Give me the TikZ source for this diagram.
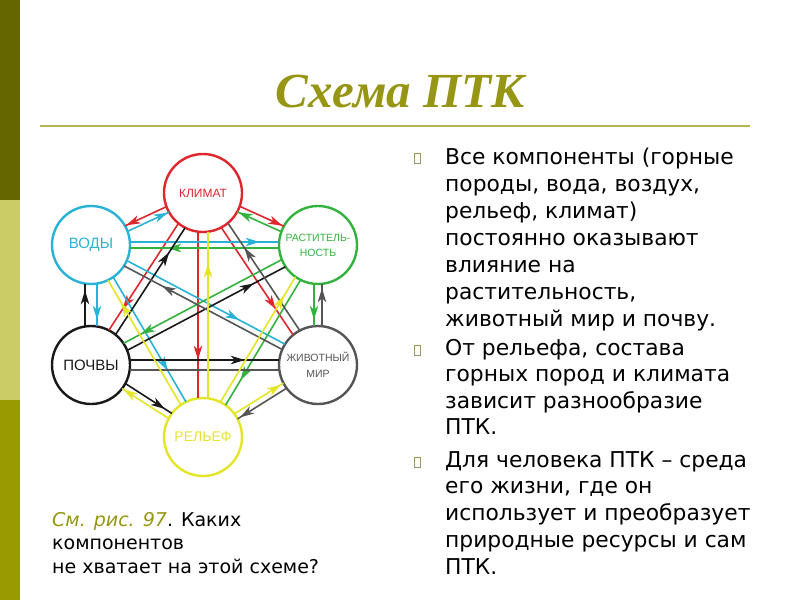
\documentclass[tikz,border=0pt]{standalone}
\usepackage{fontspec}
\setmainfont{DejaVu Sans}
\newfontfamily\titlefont{Liberation Serif}
\newfontfamily\labelfont{Liberation Sans}
\usepackage{tikz}
\usetikzlibrary{positioning,calc,arrows.meta,decorations.markings}
\definecolor{myred}{RGB}{222,38,44}
\definecolor{mycyan}{RGB}{42,178,214}
\definecolor{mygreen}{RGB}{52,178,62}
\definecolor{myblack}{RGB}{25,25,25}
\definecolor{mygray}{RGB}{85,85,85}
\definecolor{myyellow}{RGB}{228,228,40}
\definecolor{olivedark}{RGB}{102,102,0}
\definecolor{olivelight}{RGB}{204,204,102}
\definecolor{olivemid}{RGB}{153,153,0}
\definecolor{titlecol}{RGB}{150,150,20}
\definecolor{rulecol}{RGB}{180,180,80}
\definecolor{bulletcol}{RGB}{150,150,100}

\begin{document}
\begin{tikzpicture}[x=1pt, y=1pt, on grid,
    main/.style = {draw, circle, line width=2.4pt, minimum size=78pt, inner sep=0pt, align=center},
    link/.style = {to path={($(\tikztostart)!39pt!(\tikztotarget)!#1pt!90:(\tikztotarget)$) -- ($(\tikztotarget)!39pt!(\tikztostart)!#1pt!-90:(\tikztostart)$)}, line width=1.6pt},
    arr/.style = {postaction={decorate}, decoration={markings, mark=at position #1 with {\arrow{Stealth[length=14pt, width=8.5pt, inset=4pt]}}}},
    bullet/.style = {draw=bulletcol, line width=1pt, minimum width=6pt, minimum height=10pt, inner sep=0pt},
    txt/.style = {anchor=north west, inner sep=0pt, align=left}]
    \path[use as bounding box] (0,0) rectangle (800,-600);
    % side bar
    \fill[olivedark] (0,0) rectangle (20,-200);
    \fill[olivelight] (0,-200) rectangle (20,-400);
    \fill[olivemid] (0,-400) rectangle (20,-600);
    % title
    \node[anchor=base, text=titlecol, font=\titlefont\bfseries\itshape\fontsize{49}{55}\selectfont] (title) at (400,-107) {Схема ПТК};
    \draw[rulecol, line width=2pt] (40,-126) -- (750,-126);

    % circles
    \node[main] (klimat) at (203,-193) [color=myred, font=\labelfont\fontsize{12}{14}\selectfont] {КЛИМАТ};
    \node[main] (vody) [below left=52pt and 112pt of klimat] [color=mycyan, font=\labelfont\fontsize{15}{17}\selectfont] {ВОДЫ};
    \node[main] (rast) [below right=52pt and 115pt of klimat] [color=mygreen, font=\labelfont\fontsize{10.5}{15}\selectfont] {РАСТИТЕЛЬ-\\НОСТЬ};
    \node[main] (pochvy) [below=120pt of vody] [color=myblack, font=\labelfont\fontsize{15}{17}\selectfont] {ПОЧВЫ};
    \node[main] (zhivot) [below=120pt of rast] [color=mygray, font=\labelfont\fontsize{10.5}{16}\selectfont] {ЖИВОТНЫЙ\\МИР};
    \node[main] (relef) [below=244pt of klimat] [color=myyellow, font=\labelfont\fontsize{14}{16}\selectfont] {РЕЛЬЕФ};

    % links
    \path[color=myred] (klimat) edge[link=-3, arr=0.97] (vody)
        (klimat) edge[link=3, arr=0.97] (rast)
        (klimat) edge[link=-5, arr=0.77] (relef)
        (klimat) edge[link=-4, arr=0.8] (pochvy)
        (klimat) edge[link=-4, arr=0.76] (zhivot);
    \path[color=mycyan] (vody) edge[link=-3, arr=0.97] (klimat)
        (vody) edge[link=3, arr=0.87] (rast)
        (vody) edge[link=3, arr=0.71] (zhivot)
        (vody) edge[link=3, arr=0.75] (relef)
        (vody) edge[link=6, arr=0.85] (pochvy);
    \path[color=mygreen] (rast) edge[link=3, arr=0.97] (klimat)
        (rast) edge[link=3, arr=0.75] (vody)
        (rast) edge[link=-4, arr=0.89] (pochvy)
        (rast) edge[link=3, arr=0.8] (relef)
        (rast) edge[link=-4, arr=0.85] (zhivot);
    \path[color=myblack] (pochvy) edge[link=-4, arr=0.77] (klimat)
        (pochvy) edge[link=-4, arr=0.8] (rast)
        (pochvy) edge[link=5, arr=0.77] (zhivot)
        (pochvy) edge[link=3, arr=0.85] (relef)
        (pochvy) edge[link=6, arr=0.85] (vody);
    \path[color=mygray] (zhivot) edge[link=-4, arr=0.77] (klimat)
        (zhivot) edge[link=3, arr=0.76] (vody)
        (zhivot) edge[link=-4, arr=0.9] (rast)
        (zhivot) edge[link=5] (pochvy)
        (zhivot) edge[link=3, arr=0.95] (relef);
    \path[color=myyellow] (relef) edge[link=-5, arr=0.81] (klimat)
        (relef) edge[link=3, arr=0.82] (vody)
        (relef) edge[link=3, arr=0.97] (pochvy)
        (relef) edge[link=3, arr=0.95] (zhivot)
        (relef) edge[link=3, arr=0.85] (rast);

    % text on the right
    \node[bullet] (b1) at (417.5,-158.5) {};
    \node[bullet] (b2) at (417.5,-350) {};
    \node[bullet] (b3) at (417.5,-462) {};
    \node[txt, font=\fontsize{21.8}{27}\selectfont] (para1) at (445,-148) {Все компоненты (горные\\породы, вода, воздух,\\рельеф, климат)\\постоянно оказывают\\влияние на\\растительность,\\животный мир и почву.};
    \node[txt, font=\fontsize{21.8}{26.5}\selectfont] (para2) at (445,-339) {От рельефа, состава\\горных пород и климата\\зависит разнообразие\\ПТК.};
    \node[txt, font=\fontsize{21.8}{26.8}\selectfont] (para3) at (445,-451) {Для человека ПТК – среда\\его жизни, где он\\использует и преобразует\\природные ресурсы и сам\\ПТК.};
    \node[txt, font=\fontsize{19}{23.5}\selectfont] (question) at (52,-512) {\textcolor{titlecol}{\itshape См. рис. 97}. Каких\\компонентов\\не хватает на этой схеме?};
\end{tikzpicture}
\end{document}
